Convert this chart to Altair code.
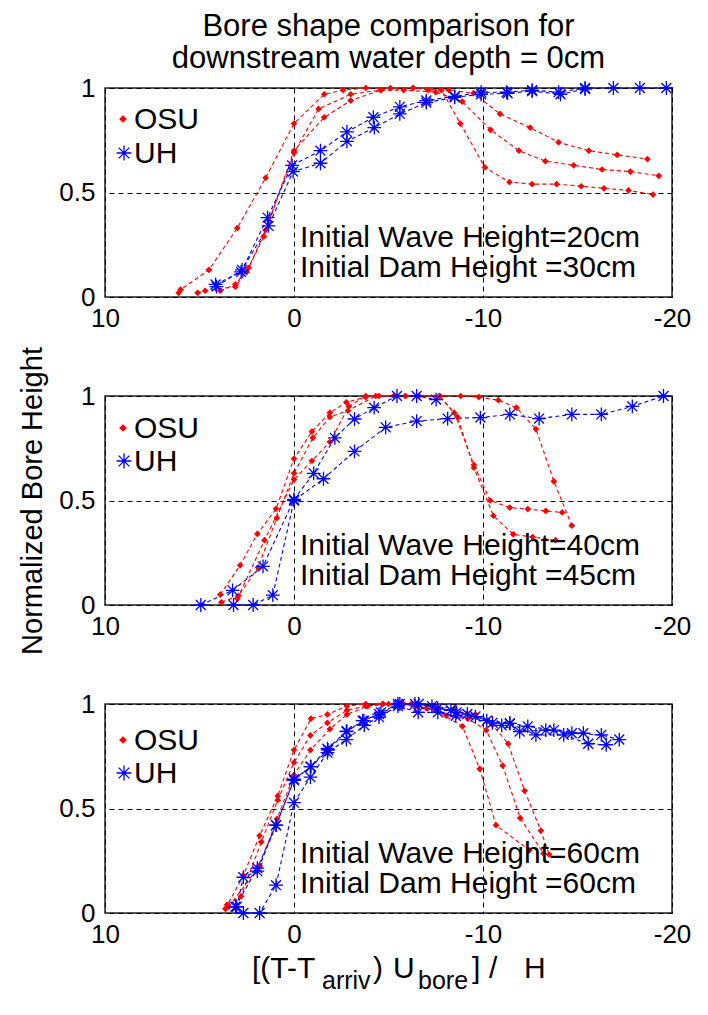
import altair as alt
import pandas as pd

# ---------------- data ----------------
# Panel 1: wave 20 cm / dam 30 cm
P1_OSU_A_X = [6.1, 6.0, 4.5, 3.0, 1.5, 0.0, -1.6, -2.6, -3.8, -5.1, -6.3, -7.1, -7.8, -8.8, -10.1, -11.4, -12.6, -13.9, -15.2, -16.4, -17.7, -19.0]
P1_OSU_A_Y = [0.02, 0.035, 0.13, 0.33, 0.57, 0.83, 0.97, 0.99, 1.0, 1.0, 1.0, 0.99, 0.99, 0.83, 0.62, 0.55, 0.54, 0.54, 0.53, 0.52, 0.51, 0.49]
P1_OSU_B_X = [5.1, 4.7, 3.1, 2.5, 1.6, 0.0, -1.3, -3.0, -4.6, -5.8, -7.5, -8.9, -10.4, -11.9, -13.3, -14.8, -16.3, -17.8, -19.3]
P1_OSU_B_Y = [0.02, 0.03, 0.05, 0.12, 0.29, 0.69, 0.90, 0.97, 0.99, 0.99, 0.98, 0.935, 0.80, 0.70, 0.65, 0.63, 0.61, 0.60, 0.58]
P1_OSU_C_X = [3.9, 3.1, 2.4, 1.5, 0.0, -1.6, -3.0, -4.6, -6.3, -8.2, -9.5, -10.9, -12.5, -14.0, -15.6, -17.1, -18.7]
P1_OSU_C_Y = [0.03, 0.06, 0.14, 0.32, 0.70, 0.86, 0.94, 0.99, 1.0, 0.99, 0.975, 0.876, 0.81, 0.74, 0.70, 0.68, 0.66]
P1_UH_A_X = [4.15, 2.8, 1.4, 0.1, -1.4, -2.8, -4.2, -5.6, -7.0, -8.5, -9.9, -11.25, -12.6, -14.0, -15.4, -16.9, -18.3, -19.7]
P1_UH_A_Y = [0.06, 0.12, 0.38, 0.63, 0.70, 0.79, 0.86, 0.91, 0.94, 0.96, 0.98, 0.98, 0.99, 0.98, 1.0, 1.0, 1.0, 1.0]
P1_UH_B_X = [4.1, 2.75, 1.35, 0.05, -1.4, -2.8, -4.25, -5.6, -7.0, -8.5, -9.9, -11.3, -12.6, -14.1, -15.4]
P1_UH_B_Y = [0.05, 0.13, 0.34, 0.60, 0.64, 0.745, 0.81, 0.876, 0.93, 0.955, 0.97, 0.975, 0.985, 0.97, 0.995]

# Panel 2: wave 40 cm / dam 45 cm
P2_OSU_A_X = [3.9, 2.85, 1.94, 0.95, 0.0, -0.95, -1.9, -2.77, -3.8, -4.5, -5.3, -5.9, -6.6, -7.7, -8.65, -9.52, -10.55, -11.6, -12.63, -13.84]
P2_OSU_A_Y = [0.05, 0.19, 0.34, 0.46, 0.70, 0.83, 0.92, 0.97, 0.995, 1.0, 1.0, 1.0, 1.0, 1.0, 0.90, 0.657, 0.427, 0.338, 0.325, 0.31]
P2_OSU_B_X = [3.84, 2.94, 1.9, 0.91, 0.0, -1.0, -1.9, -2.86, -4.33, -5.3, -6.6, -7.7, -8.48, -9.52, -10.38, -11.42, -12.37, -13.32, -14.19]
P2_OSU_B_Y = [0.013, 0.044, 0.18, 0.416, 0.63, 0.80, 0.90, 0.93, 1.0, 1.0, 1.0, 1.0, 0.92, 0.67, 0.50, 0.466, 0.459, 0.45, 0.443]
P2_OSU_C_X = [3.0, 1.56, 0.0, -0.95, -1.9, -2.9, -3.8, -5.9, -7.7, -8.82, -9.78, -10.81, -11.77, -12.8, -13.75, -14.7]
P2_OSU_C_Y = [0.03, 0.31, 0.60, 0.69, 0.78, 0.95, 1.0, 1.0, 1.0, 1.0, 0.995, 0.98, 0.944, 0.842, 0.592, 0.38]
P2_UH_A_X = [4.93, 3.25, 1.64, 0.0, -1.04, -2.16, -3.2, -4.24, -5.45, -6.49, -7.52]
P2_UH_A_Y = [0.0, 0.07, 0.185, 0.505, 0.63, 0.80, 0.89, 0.944, 1.0, 1.0, 0.983]
P2_UH_B_X = [3.2, 2.16, 1.12, 0.0, -1.56, -3.2, -4.85, -6.49, -8.13, -9.86, -11.42, -12.97, -14.7, -16.26, -17.9, -19.55]
P2_UH_B_Y = [0.0, 0.0, 0.047, 0.5, 0.604, 0.735, 0.85, 0.88, 0.892, 0.897, 0.912, 0.892, 0.912, 0.912, 0.95, 1.0]

# Panel 3: wave 60 cm / dam 60 cm
P3_OSU_A_X = [3.63, 2.68, 1.82, 0.86, 0.0, -0.9, -1.77, -2.8, -3.8, -4.7, -5.6, -6.5, -7.5, -8.91, -9.83, -10.69, -12.45]
P3_OSU_A_Y = [0.02, 0.18, 0.37, 0.56, 0.78, 0.93, 0.95, 0.99, 1.0, 1.0, 1.0, 0.99, 0.97, 0.893, 0.69, 0.42, 0.30]
P3_OSU_B_X = [3.54, 2.8, 1.73, 0.86, 0.0, -0.87, -1.77, -2.8, -3.8, -4.7, -5.8, -7.0, -8.05, -9.2, -10.17, -11.04, -11.97, -13.2]
P3_OSU_B_Y = [0.04, 0.08, 0.34, 0.54, 0.72, 0.85, 0.91, 0.97, 0.99, 1.0, 1.0, 0.98, 0.944, 0.93, 0.875, 0.705, 0.454, 0.285]
P3_OSU_C_X = [3.45, 1.82, 0.9, 0.0, -0.87, -1.9, -2.8, -3.9, -5.0, -6.2, -7.3, -8.5, -9.6, -10.5, -11.33, -12.2, -13.06, -13.5]
P3_OSU_C_Y = [0.03, 0.227, 0.45, 0.66, 0.78, 0.88, 0.95, 0.99, 1.0, 1.0, 0.99, 0.98, 0.95, 0.90, 0.81, 0.585, 0.394, 0.28]
P3_UH_A_X = [2.68, 1.82, 0.95, 0.0, -0.87, -1.77, -2.77, -3.72, -4.5, -5.5, -6.57, -7.61, -8.56, -10.2, -11.42, -12.8, -14.27, -15.57, -16.52]
P3_UH_A_Y = [0.0, 0.0, 0.133, 0.528, 0.65, 0.767, 0.83, 0.898, 0.937, 0.99, 0.96, 0.96, 0.944, 0.92, 0.907, 0.852, 0.852, 0.81, 0.805]
P3_UH_B_X = [3.03, 2.68, 1.94, 0.95, 0.0, -0.87, -1.77, -2.77, -3.63, -4.5, -5.6, -6.4, -7.3, -8.3, -9.17, -10.99, -11.94, -13.32, -14.7, -16.26, -17.21]
P3_UH_B_Y = [0.03, 0.171, 0.2, 0.42, 0.635, 0.70, 0.786, 0.868, 0.92, 0.952, 1.0, 1.0, 0.99, 0.97, 0.952, 0.898, 0.868, 0.875, 0.86, 0.852, 0.83]
P3_UH_C_X = [3.1, 1.94, 0.95, 0.0, -0.9, -1.8, -2.8, -3.7, -4.6, -5.5, -6.6, -7.6, -8.6, -9.6, -10.5, -11.42, -12.37, -13.75, -15.31]
P3_UH_C_Y = [0.03, 0.215, 0.42, 0.64, 0.70, 0.78, 0.87, 0.92, 0.96, 1.0, 1.0, 0.98, 0.96, 0.94, 0.91, 0.907, 0.893, 0.875, 0.86]

SERIES = ["OSU", "UH"]
X_TICKS = [10, 0, -10, -20]
Y_TICKS = [0, 0.5, 1]
TITLE_LINES = ["Bore shape comparison for", "downstream water depth = 0cm"]
Y_TITLE = "Normalized Bore Height"
WAVE_TEXT = ["Initial Wave Height=20cm", "Initial Wave Height=40cm", "Initial Wave Height=60cm"]
DAM_TEXT = ["Initial Dam Height =30cm", "Initial Dam Height =45cm", "Initial Dam Height =60cm"]
X_TITLE_PARTS = ["[(T-T", "arriv", ")", "U", "bore", "]", "/", "H"]
X_TITLE_SUB = [False, True, False, False, True, False, False, False]

# ---------------- styling / layout ----------------
FONT = "Liberation Sans"
STAR = "M0,-1L0,1M-1,0L1,0M-0.72,-0.72L0.72,0.72M-0.72,0.72L0.72,-0.72"
W, H = 567, 209
X_TITLE_POS = [147, 217, 268, 288, 313, 367, 384, 419]
LEGEND_Y = [(31, 65), (32, 65), (36, 69)]


def make_df(runs):
    rows = []
    for src, run, xs, ys in runs:
        for i, (x, y) in enumerate(zip(xs, ys)):
            rows.append({"src": src, "run": run, "x": x, "y": y, "i": i})
    return pd.DataFrame(rows)


df1 = make_df([("OSU", "o1", P1_OSU_A_X, P1_OSU_A_Y), ("OSU", "o2", P1_OSU_B_X, P1_OSU_B_Y),
               ("OSU", "o3", P1_OSU_C_X, P1_OSU_C_Y), ("UH", "u1", P1_UH_A_X, P1_UH_A_Y),
               ("UH", "u2", P1_UH_B_X, P1_UH_B_Y)])
df2 = make_df([("OSU", "o1", P2_OSU_A_X, P2_OSU_A_Y), ("OSU", "o2", P2_OSU_B_X, P2_OSU_B_Y),
               ("OSU", "o3", P2_OSU_C_X, P2_OSU_C_Y), ("UH", "u1", P2_UH_A_X, P2_UH_A_Y),
               ("UH", "u2", P2_UH_B_X, P2_UH_B_Y)])
df3 = make_df([("OSU", "o1", P3_OSU_A_X, P3_OSU_A_Y), ("OSU", "o2", P3_OSU_B_X, P3_OSU_B_Y),
               ("OSU", "o3", P3_OSU_C_X, P3_OSU_C_Y), ("UH", "u1", P3_UH_A_X, P3_UH_A_Y),
               ("UH", "u2", P3_UH_B_X, P3_UH_B_Y), ("UH", "u3", P3_UH_C_X, P3_UH_C_Y)])

one = pd.DataFrame({"k": [0]})


def txt(s, x, y, size, align="left", baseline="middle"):
    return alt.Chart(one).mark_text(align=align, baseline=baseline, font=FONT, fontSize=size,
                                    color="black").encode(x=alt.value(x), y=alt.value(y),
                                                          text=alt.value(s))


def panel(df, idx):
    xaxis = alt.Axis(values=X_TICKS, labelExpr="'' + datum.value", grid=True, gridDash=[5, 4],
                     gridColor="black", gridOpacity=1, gridWidth=1, ticks=False, domain=False,
                     labelFont=FONT, labelFontSize=26, labelColor="black", labelPadding=8,
                     labelFlush=False, labelOverlap=False, title=None)
    yaxis_kw = dict(values=Y_TICKS, labelExpr="'' + datum.value", grid=True, gridDash=[5, 4],
                    gridColor="black", gridOpacity=1, gridWidth=1, ticks=False, domain=False,
                    labelFont=FONT, labelFontSize=26, labelColor="black", labelPadding=10,
                    labelFlush=False, labelOverlap=False)
    if idx == 1:
        yaxis = alt.Axis(title=Y_TITLE, titleFont=FONT, titleFontSize=29, titleFontWeight="normal",
                         titleColor="black", titlePadding=11, **yaxis_kw)
    else:
        yaxis = alt.Axis(title=None, **yaxis_kw)
    xs = alt.Scale(domain=[-20, 10], reverse=True, nice=False, zero=False)
    ys = alt.Scale(domain=[0, 1], nice=False)
    base = alt.Chart(df).encode(x=alt.X("x:Q", scale=xs, axis=xaxis),
                                y=alt.Y("y:Q", scale=ys, axis=yaxis))
    lines = base.mark_line(strokeDash=[4, 3], strokeWidth=1.1).encode(
        color=alt.Color("src:N", scale=alt.Scale(domain=SERIES, range=["red", "blue"]), legend=None),
        detail="run:N", order="i:Q")
    osu = base.transform_filter(alt.datum.src == "OSU").mark_point(
        shape="diamond", filled=True, color="red", size=45, opacity=1)
    uh = base.transform_filter(alt.datum.src == "UH").mark_point(
        shape=STAR, filled=False, color="blue", strokeWidth=1.3, size=190, opacity=1)
    ly = LEGEND_Y[idx]
    leg = [
        alt.Chart(one).mark_point(shape="diamond", filled=True, color="red", size=60, opacity=1).encode(
            x=alt.value(18), y=alt.value(ly[0])),
        alt.Chart(one).mark_point(shape=STAR, filled=False, color="blue", strokeWidth=1.3, size=220,
                                  opacity=1).encode(x=alt.value(19), y=alt.value(ly[1])),
        txt(SERIES[0], 29, ly[0] + 1, 30),
        txt(SERIES[1], 29, ly[1] + 1, 30),
    ]
    layers = [lines, osu, uh] + leg + [txt(WAVE_TEXT[idx], 195, 150, 30), txt(DAM_TEXT[idx], 195, 180, 30)]
    if idx == 2:
        for s, px, sub in zip(X_TITLE_PARTS, X_TITLE_POS, X_TITLE_SUB):
            layers.append(txt(s, px, 285 if sub else 274, 25 if sub else 30, baseline="alphabetic"))
    ch = alt.layer(*layers).properties(width=W, height=H)
    if idx == 0:
        ch = ch.properties(title=alt.TitleParams(TITLE_LINES, font=FONT, fontSize=31, fontWeight="normal",
                                                 color="black", anchor="middle", frame="group",
                                                 lineHeight=32, offset=0))
    return ch


chart = alt.vconcat(panel(df1, 0), panel(df2, 1), panel(df3, 2), spacing=99, bounds="flush").configure_view(
    stroke="#222", strokeWidth=1.5
).properties(padding={"left": 10, "top": 2, "right": 0, "bottom": 0}, background="white")

chart.save("out.html", embed_options={"renderer": "svg", "actions": False})
